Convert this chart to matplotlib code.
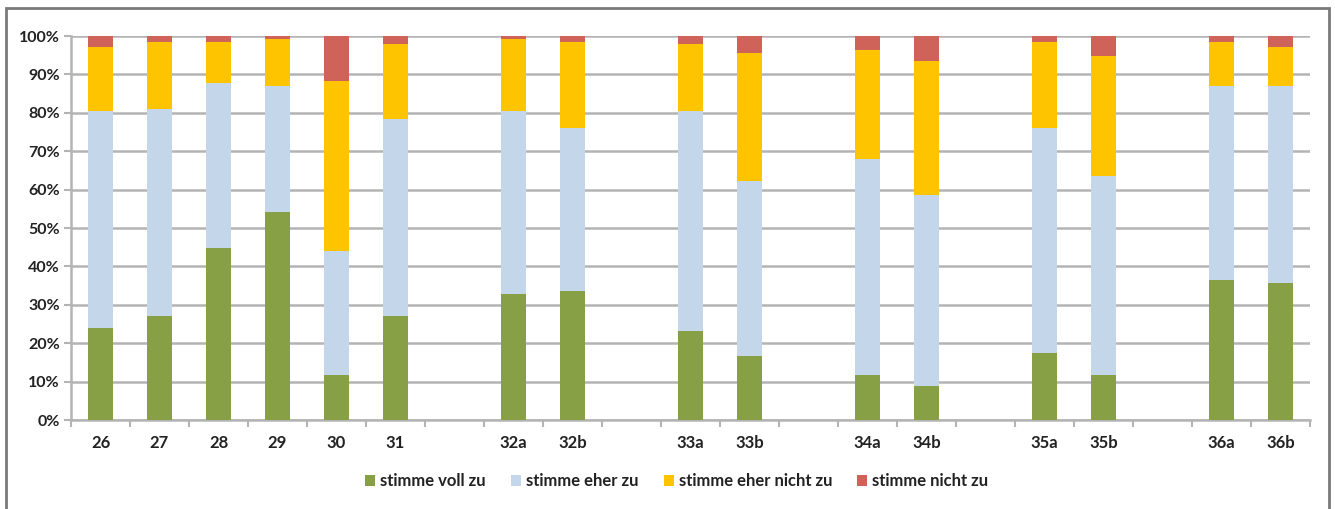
import matplotlib.pyplot as plt
import numpy as np
from matplotlib.patches import Rectangle

# slot labels along the x axis; empty strings leave a gap between groups
slots = ['26', '27', '28', '29', '30', '31', '',
         '32a', '32b', '', '33a', '33b', '', '34a', '34b', '',
         '35a', '35b', '', '36a', '36b']

# answer shares in percent, one value per labelled slot
voll_zu = [24.0, 27.1, 44.7, 54.2, 11.6, 27.1, 32.8, 33.5, 23.3, 16.7,
           11.6, 8.8, 17.4, 11.6, 36.5, 35.8]
eher_zu = [56.5, 54.0, 43.0, 32.8, 32.4, 51.2, 47.7, 42.6, 57.2, 45.5,
           56.3, 49.7, 58.7, 52.0, 50.5, 51.2]
eher_nicht_zu = [16.6, 17.4, 10.8, 12.2, 44.4, 19.5, 18.7, 22.4, 17.3, 33.5,
                 28.5, 34.9, 22.4, 31.3, 11.5, 10.1]
nicht_zu = [2.9, 1.5, 1.5, 0.8, 11.6, 2.2, 0.8, 1.5, 2.2, 4.3,
            3.6, 6.6, 1.5, 5.1, 1.5, 2.9]

series = [
    ('stimme voll zu', voll_zu, '#87a046'),
    ('stimme eher zu', eher_zu, '#c4d6ea'),
    ('stimme eher nicht zu', eher_nicht_zu, '#ffc400'),
    ('stimme nicht zu', nicht_zu, '#cf6259'),
]

plt.rcParams['font.family'] = ['Lato', 'DejaVu Sans']
plt.rcParams['font.weight'] = 'bold'
plt.rcParams['text.color'] = '#222222'

fig = plt.figure(figsize=(13.35, 5.09), dpi=100)
ax = fig.add_axes([71 / 1335, 89 / 509, 1239 / 1335, 384 / 509])

# outer frame around the whole chart
fig.patches.append(Rectangle((6 / 1335, -0.05), 1323 / 1335, 1.05 - 8 / 509,
                             transform=fig.transFigure, fill=False,
                             edgecolor='#7a7a7a', linewidth=2))

x = np.array([i for i, s in enumerate(slots) if s])
bottom = np.zeros(len(x))
for name, vals, color in series:
    vals = np.array(vals)
    ax.bar(x, vals, 0.41, bottom=bottom, color=color, label=name, zorder=3)
    bottom += vals

ax.set_xlim(-0.5, len(slots) - 0.5)
ax.set_ylim(0, 100)
ax.set_yticks(np.arange(0, 101, 10))
ax.set_yticklabels([f'{v}%' for v in range(0, 101, 10)])
ax.yaxis.grid(True, color='#b4b4b4', linewidth=1.8, zorder=0)

ax.set_xticks(x)
ax.set_xticklabels([s for s in slots if s])
ax.set_xticks(np.arange(-0.5, len(slots), 1), minor=True)
ax.tick_params(axis='x', which='major', length=0, pad=11, labelsize=12,
               labelcolor='#222222')
ax.tick_params(axis='x', which='minor', length=5, width=1.5, color='#b4b4b4')
ax.tick_params(axis='y', length=5, width=1.5, color='#b4b4b4', labelsize=11.5,
               pad=3, labelcolor='#222222')

for side in ['top', 'right']:
    ax.spines[side].set_visible(False)
for side in ['left', 'bottom']:
    ax.spines[side].set_color('#b4b4b4')
    ax.spines[side].set_linewidth(1.8)

ax.legend(loc='center', bbox_to_anchor=(0.489, -0.16), ncol=4, frameon=False,
          fontsize=12, handlelength=0.6, handleheight=0.6, handletextpad=0.3,
          columnspacing=1.5)

fig.savefig('out.png', dpi=100)
